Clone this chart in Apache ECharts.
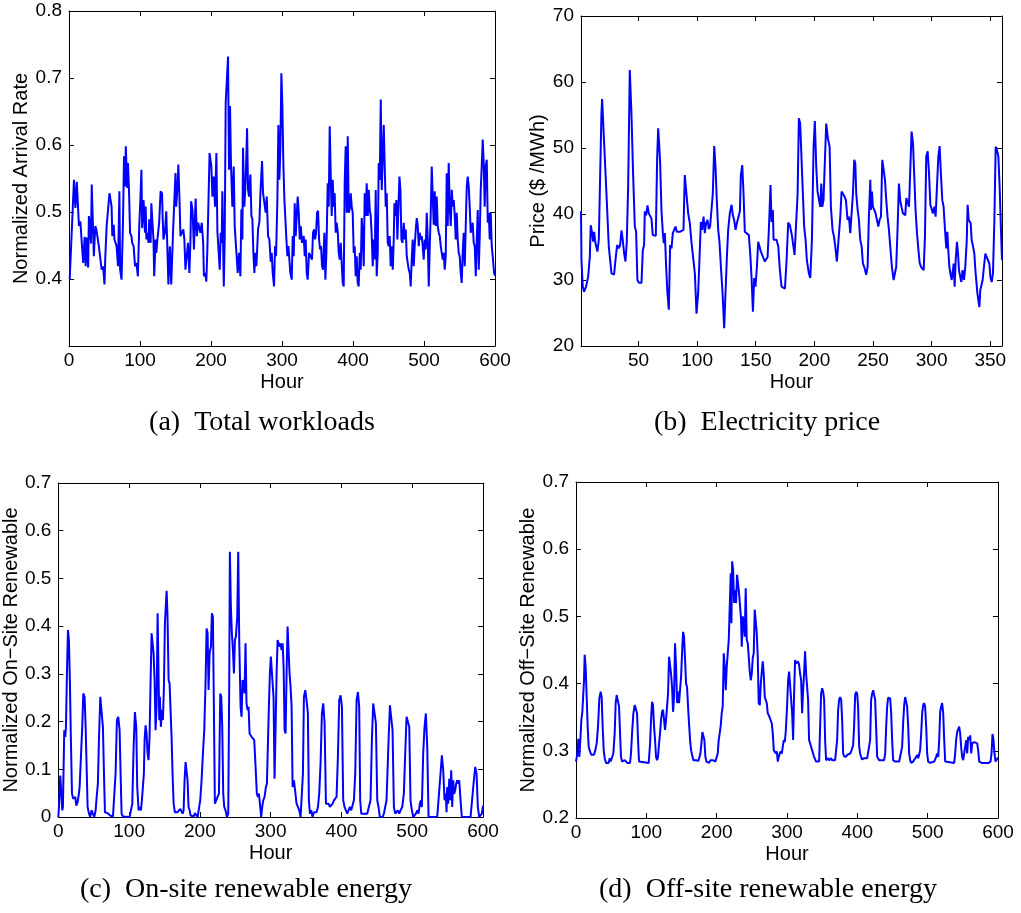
<!DOCTYPE html>
<html>
<head>
<meta charset="utf-8">
<script src="https://cdn.jsdelivr.net/npm/echarts@6/dist/echarts.min.js"></script>
<style>
  html, body { margin: 0; padding: 0; background: #fff; }
  #chart { width: 1021px; height: 913px; }
</style>
</head>
<body>
<div id="chart"></div>
<script>
// Hourly traces, [hour, value]

// (a) normalized arrival rate of total workloads
const workload = [
[1,0.400],[7,0.548],[9,0.506],[11,0.545],[13,0.543],[14,0.479],[16,0.486],[18,0.454],[20,0.424],[22,0.463],[23.5,0.419],[25,0.462],[27,0.417],[28,0.494],[29,0.459],[30,0.491],[31,0.453],[32,0.541],[34,0.543],[35,0.434],[37,0.479],[38.5,0.474],[41,0.476],[42,0.449],[44,0.447],[46,0.414],[48,0.419],[50,0.392],[51,0.429],[53,0.479],[55,0.481],[57,0.528],[60,0.508],[61,0.464],[63,0.481],[64,0.459],[67,0.449],[69,0.419],[71,0.531],[72,0.414],[74,0.399],[76,0.483],[77.5,0.583],[79,0.538],[80,0.598],[82,0.536],[83,0.573],[84.5,0.533],[86,0.469],[88,0.464],[89,0.454],[91,0.449],[93,0.419],[95,0.424],[97,0.404],[99,0.481],[100.5,0.518],[102,0.563],[103,0.476],[105,0.518],[107,0.469],[108,0.508],[109,0.459],[110,0.469],[112,0.454],[113,0.489],[115,0.454],[116,0.513],[117,0.494],[119,0.459],[120,0.404],[122,0.459],[123,0.439],[124.5,0.459],[126,0.474],[127,0.484],[129,0.531],[131,0.528],[132,0.489],[133,0.459],[135,0.469],[137,0.501],[138.5,0.503],[140,0.392],[142,0.449],[144,0.392],[146.5,0.469],[148,0.508],[150,0.558],[151,0.508],[153,0.541],[154,0.571],[155.5,0.523],[157,0.464],[159,0.469],[161,0.474],[162.5,0.459],[164,0.414],[166,0.414],[167.6,0.454],[169.5,0.409],[171,0.454],[172,0.516],[174,0.503],[176,0.444],[177,0.479],[178.4,0.520],[180,0.464],[182,0.484],[183,0.479],[185,0.469],[187,0.484],[189,0.454],[190,0.404],[192,0.409],[193.4,0.396],[195,0.449],
[198,0.588],[200.5,0.568],[202,0.523],[203.8,0.553],[205.7,0.508],[207.6,0.588],[209,0.471],[210.9,0.469],[212.3,0.414],[213.7,0.469],[215.1,0.454],[216,0.531],[218,0.389],[219.3,0.459],[220.7,0.663],[222.6,0.663],[224,0.732],[225.4,0.563],[226.8,0.658],[228.2,0.568],[230.1,0.508],[232,0.568],[233.4,0.479],[235.8,0.439],[237.6,0.409],[239.5,0.439],[241.4,0.404],[242.8,0.504],[244.2,0.459],[245.1,0.596],[247,0.508],[248.9,0.548],[250.8,0.625],[252.2,0.533],[253.6,0.523],[255.5,0.556],[256.9,0.494],[258.3,0.489],[259.7,0.439],[261.1,0.409],[262.5,0.439],[263.9,0.419],[266.3,0.474],[268.2,0.486],[269.6,0.528],[271.9,0.576],[273.3,0.528],[275.7,0.528],[277,0.499],[278.5,0.523],[280.4,0.464],[282.2,0.459],[284.1,0.426],[285.5,0.439],[286.9,0.409],[288.8,0.389],[290.2,0.449],[291.6,0.434],[293.5,0.518],[294.9,0.630],[296.3,0.548],[297.7,0.593],[299.1,0.707],[300.5,0.658],[302,0.568],[303.4,0.518],[304.8,0.489],[306.2,0.459],[307.6,0.434],[309,0.449],[310.4,0.429],[311.8,0.409],[313.7,0.399],[315.1,0.464],[316.5,0.434],[317.9,0.513],[319.3,0.464],[320.7,0.464],[322.1,0.523],[323.6,0.499],[325,0.459],[326.4,0.479],[328.2,0.454],[330.6,0.464],[332,0.434],[333.4,0.459],[334.8,0.409],[336.2,0.399],[338.1,0.439],[339.5,0.439],[340.9,0.439],[342.3,0.429],[343.7,0.469],[345.1,0.474],[346.6,0.459],[348,0.469],[349.4,0.499],[350.8,0.502],[352.2,0.459],[353.6,0.444],[355,0.449],[356.4,0.419],[357.8,0.414],[359.7,0.469],[361.1,0.399],[362.5,0.439],[364.4,0.543],[365.8,0.508],[367.2,0.628],[368.6,0.558],[370,0.494],[371.4,0.548],[372.8,0.508],[374.2,0.528],[375.6,0.469],[377,0.484],[378.5,0.471],[379.9,0.439],[381.3,0.429],[382.7,0.454],[384.1,0.456],[385.5,0.394],[386.9,0.389],[388.3,0.543],[389.7,0.598],[391.2,0.499],[392.6,0.613],[394,0.499],[395.4,0.504],[396.8,0.528],[398.2,0.508],[399.6,0.499],[401,0.439],[402.4,0.449],[403.8,0.404],[405.2,0.434],[406.6,0.394],
[408,0.389],[409.5,0.439],[410.9,0.414],[412.3,0.491],[413.7,0.464],[415.1,0.419],[416.5,0.528],[417.9,0.494],[419.3,0.543],[420.8,0.494],[422.2,0.533],[423.6,0.504],[425,0.494],[426.4,0.464],[427.8,0.419],[429.2,0.459],[430.6,0.429],[432,0.533],[433.4,0.404],[434.8,0.439],[436.2,0.573],[437.7,0.548],[439.1,0.668],[440.5,0.533],[441.9,0.583],[443.3,0.630],[444.7,0.568],[446.1,0.508],[447.5,0.528],[448.9,0.454],[450.3,0.449],[451.7,0.464],[453.1,0.419],[454.6,0.449],[456,0.414],[457.4,0.459],[458.3,0.513],[459.7,0.494],[461.1,0.518],[462.5,0.459],[463.9,0.459],[465.4,0.553],[466.8,0.533],[468.2,0.459],[469.6,0.454],[471.5,0.484],[472.9,0.459],[474.3,0.474],[475.7,0.434],[477.1,0.424],[478.5,0.414],[479.9,0.409],[481.3,0.389],[482.7,0.429],[484.1,0.459],[485.5,0.419],[486.9,0.449],[488.4,0.474],[489.8,0.491],[491.2,0.479],[492.6,0.449],[494,0.469],[495.4,0.459],[496.8,0.464],[498.2,0.449],[499.6,0.429],[501,0.459],[502.4,0.444],[503.9,0.499],[505.3,0.459],[506.7,0.389],[508.1,0.449],[509.5,0.499],[510.9,0.568],[512.3,0.523],[513.7,0.481],[515.1,0.531],[516.5,0.479],[517.9,0.523],[519.3,0.479],[520.8,0.469],[522.2,0.464],[523.6,0.449],[525,0.439],[526.4,0.429],[527.8,0.439],[529.2,0.414],[530.6,0.434],[532,0.558],[533.4,0.479],[534.8,0.573],[536.2,0.508],[537.7,0.479],[539.1,0.533],[540.5,0.508],[541.9,0.518],[543.3,0.494],[544.7,0.459],[546.1,0.499],[547.5,0.459],[548.9,0.439],[550.3,0.434],[551.7,0.409],[553.1,0.394],[554.5,0.439],[555.9,0.469],[557.4,0.419],[558.8,0.479],[560.2,0.538],[561.6,0.553],[563,0.538],[564.4,0.508],[565.8,0.469],[567.2,0.479],[568.6,0.484],[570,0.454],[571.5,0.449],[572.9,0.404],[574.3,0.459],[575.7,0.503],[577.1,0.414],[578.5,0.464],[579.9,0.533],[581.3,0.568],[582.7,0.608],[584.1,0.573],[585.5,0.508],[586.9,0.568],[588.4,0.578],[589.8,0.484],[591.2,0.499],[592.6,0.459],[594,0.499],[595.4,0.449],[596.8,0.434],[598.7,0.409],[600,0.405]
];

// (b) electricity price, $/MWh
const price = [
[1,40.4],[1.4,33.0],[2.5,29.0],[3.6,28.2],[5.3,29.0],[7.1,30.5],[8.5,33.5],[9.3,38.3],[10.5,37.1],[11.3,35.8],[12.2,37.3],[13.3,35.6],[14.2,35.6],[15.0,34.3],[16.2,36.1],[17.0,43.0],[18.4,55.0],[19.0,57.4],[20.7,57.4],[22.7,43.1],[24.7,35.1],[27.0,31.0],[29.2,30.8],[30.4,33.0],[31.8,35.3],[33.2,34.8],[34.4,35.3],[35.5,37.5],[36.6,36.1],[37.8,34.0],[38.9,32.8],[40.0,35.6],[41.2,44.1],[42.6,61.8],[44.0,55.3],[45.4,46.2],[46.9,38.1],[48.0,37.3],[49.1,30.0],[50.3,29.6],[52.6,29.6],[53.7,34.5],[54.8,35.3],[55.4,40.4],[56.5,39.8],[57.7,41.3],[58.8,40.1],[60.0,40.4],[61.1,39.3],[62.2,36.8],[63.4,36.7],[64.8,36.7],[65.9,48.2],[66.8,53.0],[67.6,50.7],[68.5,47.7],[69.6,40.6],[70.8,37.1],[71.6,35.6],[72.5,37.1],[73.6,32.0],[74.7,28.0],[75.9,25.5],[77.0,35.3],[78.2,34.8],[79.3,37.1],[80.4,37.1],[81.6,38.1],[82.7,37.3],[83.8,37.2],[85.3,37.3],[86.7,37.5],[88.4,37.6],[89.5,45.9],[91.0,45.7],[92.4,40.1],[93.8,38.6],[95.2,35.7],[96.6,35.7],[98.1,31.0],[99.5,24.9],[100.9,28.0],[102.0,33.0],[103.2,38.8],[104.3,37.6],[105.5,39.6],[106.6,37.1],[107.7,38.6],[108.9,39.1],[110.0,37.7],[111.1,38.1],[112.3,38.1],[113.4,43.1],[114.6,50.3],[115.7,47.2],[116.8,42.1],[118.0,37.6],[119.1,35.7],[120.3,32.0],[121.7,28.0],[123.1,22.7],[124.2,28.0],[125.4,33.5],[126.5,37.6],[127.9,40.1],[129.4,41.4],[130.5,39.8],[131.6,39.1],[132.8,37.6],[133.9,38.6],[135.0,38.3],[136.5,40.4],[137.3,45.9],[138.5,47.4],[139.6,43.1],[140.7,37.3],[142.4,37.1],[144.1,36.8],[145.3,34.0],[146.4,30.5],[147.6,25.2],[148.7,30.3],[149.8,29.0],[151.0,32.0],[152.1,35.8],[153.2,36.1],[154.4,34.3],[155.5,33.8],[156.7,33.5],[157.8,32.8],[158.9,33.0],[160.1,33.5],[161.2,37.6],[162.6,44.4],[163.5,38.8],[164.6,40.6],[165.2,36.1],[166.3,35.8],[167.7,36.1],[169.2,35.1],[170.6,31.5],[172.0,29.0],[173.4,28.7],[174.9,28.7],[176.3,33.0],[177.7,38.7],[179.1,38.3],[180.8,36.8],[182.2,36.6],[183.1,33.8],[184.5,34.1],[185.7,43.0],[186.8,54.5],[187.9,53.7],[189.1,53.5],[190.2,43.1],[191.3,38.1],[192.5,36.1],[193.6,33.0],[195.3,31.0],[196.5,30.3],[197.9,36.0],[199.3,50.0],[200.4,54.1],[201.6,47.2],[202.7,43.4],[203.9,43.1],[205.0,41.1],[205.9,44.6],[206.7,41.1],[207.8,42.1],[209.0,48.2],[210.1,53.7],[211.5,51.5],[213.0,50.2],[214.1,41.1],[215.5,37.6],[216.7,36.6],[217.8,35.1],[219.2,32.8],[220.6,33.0],[222.1,39.6],[223.2,43.4],[224.3,43.5],[225.8,42.6],[226.9,42.1],[228.3,39.1],[229.5,39.6],[230.6,37.1],[231.7,37.1],[232.9,43.1],[234.0,48.2],[234.9,47.7],[235.7,43.1],[236.9,40.6],[238.0,39.1],[239.1,36.1],[240.3,35.1],[241.4,32.5],[242.5,32.0],[244.2,30.8],[245.4,32.0],[246.5,39.6],[247.7,45.2],[248.2,40.6],[249.1,43.4],[249.9,41.1],[251.1,40.6],[252.2,40.1],[253.3,39.8],[254.5,38.1],[255.6,39.1],[256.8,39.6],[257.9,48.2],[259.0,48.3],[260.2,45.2],[261.3,42.1],[262.4,39.6],[263.6,37.6],[264.7,35.1],[266.1,32.0],[267.6,30.0],[268.7,29.7],[269.8,32.0],[271.0,38.1],[272.1,44.6],[273.3,41.9],[274.4,41.6],[275.5,40.1],[276.7,40.1],[277.5,39.8],[278.4,42.4],[279.5,42.1],[280.7,41.1],[281.8,41.1],[282.9,52.5],[284.1,50.7],[285.2,45.7],[286.3,40.6],[287.5,37.1],[288.6,34.8],[289.8,32.6],[290.9,32.0],[292.0,31.8],[293.2,31.5],[294.3,36.6],[295.4,48.7],[296.6,49.5],[297.7,46.4],[298.9,41.4],[300.0,41.6],[301.1,40.1],[302.3,41.1],[303.4,39.6],[304.5,39.3],[305.7,48.7],[306.8,50.3],[308.0,45.7],[309.1,42.1],[310.2,41.1],[311.4,37.6],[312.5,34.8],[313.4,37.3],[314.2,34.5],[315.1,32.0],[316.2,30.8],[317.1,30.0],[318.8,32.5],[319.6,29.0],[320.5,33.0],[321.6,35.8],[322.5,34.0],[323.3,31.5],[324.5,31.8],[325.3,29.7],[326.4,31.5],[327.6,30.0],[328.7,32.0],[329.9,35.8],[330.7,41.4],[331.6,39.1],[332.4,39.1],[333.3,38.6],[334.1,36.1],[335.3,35.1],[336.4,34.0],[337.3,31.5],[338.1,31.3],[339.0,28.0],[339.8,27.0],[340.7,25.9],[341.5,28.5],[342.4,28.5],[343.5,30.0],[344.6,32.0],[345.8,34.0],[346.9,33.5],[348.1,33.3],[349.2,32.5],[350.1,30.5],[351.2,29.7],[352.3,31.0],[353.5,39.1],[354.6,50.2],[355.7,49.7],[356.9,48.7],[358.0,44.1],[359.2,37.1],[360,33.0]
];

// (c) normalized on-site renewable energy
const onsite = [
[0,0.0],[0.9,0.021],[2.8,0.087],[4.7,0.084],[5.6,0.014],[6.5,0.021],[8.4,0.182],[9.8,0.168],[10.8,0.189],[12.2,0.301],[13.6,0.392],[15.0,0.371],[16.4,0.280],[17.8,0.161],[19.3,0.049],[21.1,0.038],[22.6,0.035],[24.0,0.042],[25.4,0.024],[27.3,0.031],[29.1,0.049],[30.1,0.063],[32.0,0.066],[33.8,0.189],[35.3,0.259],[37.1,0.252],[38.6,0.189],[40.0,0.105],[41.4,0.021],[43.3,0.007],[45.1,0],[47.0,0.014],[48.9,0.017],[50.8,0],[52.7,0.014],[54.6,0.049],[55.9,0.070],[57.4,0.161],[59.3,0.252],[61.2,0.252],[63.0,0.189],[64.5,0.091],[65.9,0.010],[67.7,0.010],[69.6,0.008],[71.5,0.007],[73.4,0.003],[75.3,0],[77.2,0.001],[79.0,0],[80.9,0.091],[82.8,0.203],[84.7,0.210],[86.6,0.182],[88.0,0.091],[89.4,0.007],[91.3,0.001],[93.2,0],[100.7,0],[102.6,0],[104.5,0.028],[106.4,0.147],[108.2,0.220],[110.1,0.189],[111.5,0.063],[113.4,0.014],[114.8,0.021],[116.7,0.014],[118.1,0.035],[119.5,0.063],[120.9,0.091],[121.9,0.161],[123.3,0.192],[124.7,0.175],[126.1,0.133],[127.5,0.119],[128.9,0.168],[130.4,0.287],[131.8,0.385],[133.2,0.385],[134.6,0.343],[136.0,0.287],[137.4,0.182],[138.8,0.231],[140.3,0.427],[141.7,0.430],[142.6,0.203],[143.5,0.252],[144.9,0.189],[146.4,0.224],[147.8,0.203],[149.2,0.273],[150.6,0.406],[153.0,0.474],[154.3,0.420],[155.8,0.287],[157.2,0.280],[158.6,0.224],[160.0,0.168],[161.4,0.091],[162.9,0.028],[164.7,0.010],[166.6,0.007],[168.5,0.010],[170.4,0.013],[172.3,0.017],[174.2,0.014],[175.6,0.007],[177.0,0.014],[178.4,0.077],[179.8,0.115],[181.2,0.115],[182.6,0.077],[184.0,0.021],[185.5,0.014],[186.9,0.003],[188.3,0.003],[189.7,0.007],[191.1,0.001],[193.0,0.008],[194.9,0.007],[196.8,0],[198.6,0],[200.5,0.035],[202.4,0.077],[204.3,0.133],[206.2,0.182],[208.0,0.280],[209.5,0.395],[210.9,0.385],[212.3,0.266],[213.7,0.343],[215.6,0.357],[217.0,0.427],[218.4,0.420],[219.8,0.231],[221.2,0.028],[223.1,0.035],[225.0,0.042],[226.9,0.049],[228.8,0.259],[230.2,0.252],[231.6,0.189],[233.0,0.049],[234.4,0.021],[236.3,0.014],[238.2,0],[240.1,0.007],[241.5,0.287],[242.4,0.556],[243.8,0.441],[245.2,0.385],[246.7,0.350],[248.1,0.301],[249.5,0.371],[250.9,0.378],[252.8,0.420],[254.2,0.556],[255.6,0.371],[257.5,0.231],[258.9,0.210],[260.3,0.287],[261.7,0.280],[263.1,0.259],[264.5,0.364],[265.9,0.238],[267.4,0.224],[268.8,0.231],[270.2,0.175],[271.6,0.175],[273.0,0.168],[274.9,0.168],[276.8,0.161],[278.7,0.105],[280.5,0.049],[282.0,0.042],[283.4,0.049],[285.3,0.021],[286.6,0],[288.1,0.021],[289.5,0.035],[291.4,0.042],[293.3,0.063],[294.7,0.070],[296.1,0.070],[297.5,0.231],[298.9,0.301],[300.3,0.336],[301.3,0.336],[302.7,0.339],[304.1,0.250],[305.5,0.080],[307.0,0.189],[308.4,0.301],[309.8,0.371],[311.2,0.364],[312.6,0.357],[314.0,0.364],[315.4,0.350],[316.9,0.364],[318.3,0.315],[319.7,0.182],[321.1,0.175],[322.5,0.301],[323.9,0.399],[325.3,0.402],[326.7,0.301],[328.1,0.273],[329.6,0.231],[331.0,0.063],[332.9,0.077],[334.7,0.077],[336.6,0.028],[338.5,0.021],[340.4,0.014],[342.3,0],[344.2,0],[345.6,0.091],[347.0,0.252],[348.9,0.266],[350.7,0.245],[352.6,0.217],[354.0,0.035],[355.5,0.007],[357.3,0.014],[359.2,0],[361.1,0.010],[363.0,0.010],[364.9,0.010],[366.8,0.021],[368.6,0.049],[370.5,0.112],[372.4,0.217],[374.3,0.238],[376.2,0.196],[378.1,0.028],[379.9,0.028],[381.8,0.028],[383.7,0.021],[385.6,0.024],[387.5,0.028],[389.4,0.035],[391.2,0.038],[393.1,0.042],[395.0,0.126],[396.9,0.245],[398.8,0.255],[400.7,0.231],[402.5,0.035],[404.4,0.021],[406.3,0.014],[408.2,0.007],[410.1,0.010],[412.0,0.021],[413.8,0.014],[415.7,0.015],[417.6,0.035],[419.5,0.091],[421.4,0.245],[423.3,0.262],[425.1,0.231],[426.5,0.035],[428.0,0.007],[429.8,0.010],[431.7,0.007],[434.1,0.010],[436.4,0.007],[438.8,0.010],[441.1,0.035],[443.0,0.161],[444.9,0.238],[446.8,0.238],[448.7,0.196],[450.6,0.035],[452.4,0.021],[454.3,0],[456.2,0],[458.1,0],[460.0,0.007],[461.9,0.007],[463.7,0.035],[466.6,0.161],[468.5,0.234],[470.3,0.231],[472.2,0.182],[474.1,0.021],[476.0,0.007],[477.9,0.010],[479.7,0.014],[481.6,0.007],[483.5,0.014],[485.9,0.021],[488.2,0.049],[490.1,0.133],[492.0,0.210],[493.9,0.213],[495.8,0.189],[497.6,0.035],[499.5,0.014],[501.4,0],[503.3,0],[505.2,0.007],[507.1,0.014],[508.9,0.007],[510.8,0.028],[512.2,0.035],[513.6,0.021],[515.5,0.133],[517.4,0.189],[519.3,0.217],[521.2,0.147],[523.1,0],[525.9,0],[530.6,0],[535.3,0],[537.7,0],[540.0,0.091],[541.9,0.129],[543.8,0.098],[545.7,0.035],[547.5,0.049],[548.5,0.010],[549.4,0.063],[550.8,0.028],[552.3,0.080],[553.7,0.035],[555.1,0.098],[556.5,0.021],[557.9,0.077],[559.3,0.049],[560.7,0.056],[562.1,0.070],[563.6,0.077],[565.0,0.070],[566.4,0.077],[568.3,0.035],[570.1,0],[573.0,0],[577.7,0],[582.4,0],[585.2,0],[587.1,0.077],[589.0,0.105],[590.9,0.091],[592.7,0.021],[594.6,0],[596.5,0],[598.4,0.007],[599.8,0.021],[600,0.024]
];

// (d) normalized off-site renewable energy
const offsite = [
[0,0.284],[1.9,0.296],[3.3,0.318],[4.7,0.291],[6.2,0.316],[7.6,0.346],[9.0,0.358],[10.4,0.356],[11.4,0.405],[12.3,0.443],[13.7,0.425],[15.2,0.380],[16.6,0.336],[18.0,0.306],[19.9,0.299],[21.8,0.294],[23.7,0.296],[25.6,0.294],[27.5,0.301],[29.4,0.311],[31.3,0.336],[33.2,0.378],[35.1,0.388],[36.5,0.380],[37.9,0.336],[39.4,0.301],[40.8,0.289],[42.7,0.282],[44.6,0.284],[46.5,0.282],[47.9,0.289],[49.3,0.284],[51.2,0.286],[53.1,0.296],[55.0,0.326],[56.4,0.371],[57.8,0.383],[59.7,0.385],[61.2,0.366],[62.6,0.326],[64.0,0.291],[65.4,0.284],[67.3,0.286],[69.2,0.286],[71.1,0.284],[73.0,0.282],[74.9,0.284],[76.8,0.282],[78.2,0.296],[79.7,0.326],[81.6,0.356],[83.5,0.368],[85.4,0.368],[86.8,0.356],[88.2,0.316],[89.6,0.284],[92.0,0.282],[103.4,0.282],[105.3,0.311],[106.7,0.346],[108.1,0.373],[109.5,0.368],[111.0,0.336],[112.4,0.316],[113.8,0.291],[115.2,0.286],[116.6,0.291],[118.1,0.311],[119.5,0.326],[120.9,0.346],[122.3,0.358],[123.8,0.361],[125.2,0.346],[126.6,0.331],[128.0,0.346],[129.5,0.348],[130.9,0.385],[132.3,0.440],[133.7,0.438],[135.1,0.415],[136.6,0.395],[138.0,0.358],[139.4,0.380],[140.8,0.460],[142.3,0.425],[143.7,0.371],[145.1,0.388],[146.5,0.371],[147.9,0.390],[149.4,0.410],[150.8,0.445],[152.2,0.477],[153.6,0.470],[155.1,0.435],[156.5,0.400],[157.9,0.395],[159.3,0.366],[160.7,0.341],[162.2,0.316],[163.6,0.301],[165.0,0.294],[166.9,0.286],[168.8,0.284],[170.7,0.286],[172.6,0.287],[174.0,0.285],[175.4,0.286],[176.9,0.296],[178.3,0.311],[179.7,0.328],[181.1,0.328],[182.5,0.316],[184.0,0.291],[185.4,0.284],[187.3,0.286],[189.2,0.282],[191.1,0.286],[193.0,0.285],[194.9,0.286],[196.3,0.284],[198.2,0.284],[200.1,0.282],[201.5,0.296],[202.9,0.316],[204.3,0.326],[205.8,0.338],[207.2,0.356],[208.6,0.366],[210.1,0.445],[211.5,0.425],[212.9,0.390],[214.3,0.425],[215.7,0.426],[217.2,0.465],[218.6,0.515],[220.0,0.564],[221.0,0.490],[222.0,0.582],[223.4,0.569],[224.8,0.520],[226.2,0.539],[227.6,0.520],[229.0,0.562],[230.4,0.549],[231.9,0.534],[233.3,0.515],[234.7,0.495],[235.7,0.455],[237.1,0.500],[238.5,0.490],[239.9,0.470],[241.3,0.542],[242.8,0.465],[244.2,0.460],[245.6,0.440],[247.0,0.418],[248.5,0.405],[249.9,0.415],[251.3,0.438],[252.7,0.445],[254.1,0.510],[255.6,0.512],[257.0,0.475],[258.4,0.440],[259.8,0.371],[261.3,0.368],[262.7,0.400],[264.1,0.400],[265.5,0.433],[266.9,0.415],[268.4,0.380],[269.8,0.378],[271.2,0.371],[272.6,0.356],[274.1,0.353],[275.5,0.353],[276.9,0.351],[278.3,0.341],[279.8,0.326],[281.2,0.301],[282.6,0.300],[284.0,0.296],[285.5,0.299],[286.9,0.284],[288.3,0.291],[289.7,0.296],[291.1,0.299],[292.6,0.296],[294.0,0.306],[295.4,0.316],[296.8,0.313],[298.2,0.328],[300.1,0.366],[301.6,0.405],[303.0,0.418],[304.4,0.420],[305.8,0.420],[307.3,0.356],[308.7,0.316],[310.1,0.385],[311.5,0.435],[313.0,0.430],[314.4,0.428],[315.8,0.433],[317.2,0.428],[318.6,0.415],[320.1,0.405],[321.5,0.356],[322.9,0.390],[324.3,0.415],[325.7,0.448],[327.2,0.415],[328.6,0.395],[330.0,0.376],[331.4,0.316],[332.9,0.311],[334.3,0.313],[335.7,0.311],[337.1,0.296],[338.5,0.291],[339.9,0.289],[341.4,0.284],[342.8,0.282],[345.7,0.284],[347.1,0.336],[348.5,0.385],[349.9,0.393],[351.4,0.388],[352.8,0.376],[354.2,0.316],[355.6,0.286],[357.0,0.284],[358.5,0.289],[359.9,0.286],[361.3,0.285],[362.7,0.289],[364.2,0.286],[365.6,0.284],[368.4,0.286],[369.9,0.286],[371.3,0.316],[372.7,0.361],[374.1,0.376],[375.5,0.380],[377.0,0.376],[378.4,0.346],[379.8,0.296],[381.2,0.292],[382.6,0.292],[384.1,0.291],[385.5,0.294],[386.9,0.296],[388.3,0.294],[389.8,0.296],[391.2,0.299],[392.6,0.301],[394.0,0.308],[395.4,0.336],[396.9,0.383],[398.3,0.388],[399.7,0.385],[401.1,0.366],[402.6,0.306],[404.0,0.296],[405.4,0.291],[406.8,0.287],[408.3,0.286],[409.7,0.289],[411.1,0.291],[414.0,0.289],[416.8,0.291],[418.2,0.316],[419.6,0.376],[421.1,0.385],[422.5,0.390],[423.9,0.390],[425.3,0.376],[426.7,0.336],[428.2,0.291],[431.0,0.286],[433.9,0.286],[435.3,0.287],[438.1,0.286],[439.6,0.296],[441.0,0.336],[442.4,0.366],[443.8,0.379],[445.2,0.380],[446.7,0.378],[448.1,0.356],[449.5,0.316],[450.9,0.286],[453.8,0.284],[456.6,0.284],[459.5,0.284],[460.9,0.282],[462.3,0.286],[463.7,0.306],[465.2,0.343],[466.6,0.368],[468.0,0.380],[469.4,0.378],[470.8,0.366],[472.3,0.336],[473.7,0.296],[475.1,0.286],[476.5,0.282],[479.4,0.284],[482.2,0.286],[483.7,0.291],[485.1,0.294],[486.5,0.289],[487.9,0.294],[489.3,0.301],[490.8,0.326],[492.2,0.356],[493.6,0.368],[495.0,0.371],[496.4,0.366],[497.9,0.336],[499.3,0.296],[500.7,0.284],[503.6,0.282],[506.4,0.284],[509.3,0.284],[512.1,0.291],[513.5,0.296],[515.0,0.291],[516.4,0.316],[517.8,0.358],[519.2,0.366],[520.6,0.371],[522.1,0.356],[523.5,0.316],[524.9,0.284],[526.3,0.282],[537.7,0.282],[539.1,0.296],[540.5,0.316],[541.9,0.328],[543.4,0.326],[544.8,0.336],[546.2,0.326],[547.6,0.306],[549.0,0.291],[550.5,0.286],[551.9,0.296],[553.3,0.294],[554.8,0.316],[556.2,0.296],[557.6,0.321],[559.0,0.316],[560.5,0.323],[561.9,0.296],[563.3,0.311],[564.7,0.313],[566.2,0.313],[569.0,0.313],[570.4,0.311],[571.8,0.301],[573.3,0.284],[577.0,0.282],[581.8,0.282],[586.5,0.282],[589.4,0.284],[590.8,0.296],[592.2,0.325],[593.6,0.316],[595.0,0.296],[596.5,0.284],[597.9,0.282],[600,0.290]
];

// Axis tick values
const hourTicks = [0, 100, 200, 300, 400, 500, 600];
const priceHourTicks = [50, 100, 150, 200, 250, 300, 350];
const xTitle = 'Hour';

const SANS = '"Liberation Sans", Arial, Helvetica, sans-serif';
const SERIF = '"Liberation Serif", "Times New Roman", serif';
const LINE = '#0000ff';
const TICK_FONT = 19;
const NAME_FONT = 20;

// Panel layout and axis settings
const panels = [
  { data: workload, grid: { left: 69, top: 11, width: 426, height: 335 },
    x: { min: 0, max: 600, ticks: hourTicks },
    y: { min: 0.3, max: 0.8, interval: 0.1, fmt: v => v < 0.35 ? '' : v.toFixed(1) },
    yName: 'Normalized Arrival Rate', yGap: 36,
    caption: '(a)  Total workloads', cap: [262, 423] },
  { data: price, grid: { left: 581, top: 16, width: 421, height: 330 },
    x: { min: 1, max: 360, ticks: priceHourTicks },
    y: { min: 20, max: 70, interval: 10, fmt: v => String(Math.round(v)) },
    yName: 'Price ($ /MWh)', yGap: 27,
    caption: '(b)  Electricity price', cap: [767, 423] },
  { data: onsite, grid: { left: 58, top: 483, width: 425, height: 334 },
    x: { min: 0, max: 600, ticks: hourTicks },
    y: { min: 0, max: 0.7, interval: 0.1, fmt: v => v === 0 ? '0' : v.toFixed(1) },
    yName: 'Normalized On\u2212Site Renewable', yGap: 35,
    caption: '(c)  On-site renewable energy', cap: [246, 890] },
  { data: offsite, grid: { left: 576, top: 482, width: 422, height: 336 },
    x: { min: 0, max: 600, ticks: hourTicks },
    y: { min: 0.2, max: 0.7, interval: 0.1, fmt: v => v.toFixed(1) },
    yName: 'Normalized Off\u2212Site Renewable', yGap: 37,
    caption: '(d)  Off-site renewable energy', cap: [768, 890] }
];

const grid = [], xAxis = [], yAxis = [], series = [], graphic = [];

panels.forEach((p, i) => {
  grid.push(Object.assign({ containLabel: false }, p.grid));
  const line = { show: true, onZero: false, lineStyle: { color: '#000', width: 1 } };
  const tick = { show: true, inside: true, length: 5, lineStyle: { color: '#000', width: 1 }, customValues: p.x.ticks };
  const common = { type: 'value', gridIndex: i, min: p.x.min, max: p.x.max, splitLine: { show: false }, axisLine: line };
  xAxis.push(Object.assign({}, common, {
    position: 'bottom',
    axisTick: tick,
    axisLabel: { show: true, customValues: p.x.ticks, color: '#000', fontFamily: SANS, fontSize: TICK_FONT, margin: 5 },
    name: xTitle, nameLocation: 'middle', nameGap: 26,
    nameTextStyle: { color: '#000', fontFamily: SANS, fontSize: NAME_FONT }
  }));
  xAxis.push(Object.assign({}, common, {
    position: 'top', axisTick: tick, axisLabel: { show: false }
  }));
  const ycommon = { type: 'value', gridIndex: i, min: p.y.min, max: p.y.max, interval: p.y.interval,
    splitLine: { show: false }, axisLine: line,
    axisTick: { show: true, inside: true, length: 5, lineStyle: { color: '#000', width: 1 } } };
  yAxis.push(Object.assign({}, ycommon, {
    position: 'left',
    axisLabel: { show: true, color: '#000', fontFamily: SANS, fontSize: TICK_FONT, margin: 7, formatter: p.y.fmt },
    name: p.yName, nameLocation: 'middle', nameRotate: 90, nameGap: p.yGap,
    nameTextStyle: { color: '#000', fontFamily: SANS, fontSize: NAME_FONT }
  }));
  yAxis.push(Object.assign({}, ycommon, { position: 'right', axisLabel: { show: false } }));
  series.push({
    type: 'line', xAxisIndex: 2 * i, yAxisIndex: 2 * i, data: p.data,
    showSymbol: false, symbol: 'none', smooth: false,
    lineStyle: { color: LINE, width: 2 }, clip: true, z: 3
  });
  graphic.push({
    type: 'text', x: p.cap[0], y: p.cap[1],
    style: { text: p.caption, fill: '#000', font: '28px ' + SERIF, textAlign: 'center', textVerticalAlign: 'middle' }
  });
});

const chart = echarts.init(document.getElementById('chart'), null, { renderer: 'canvas' });
chart.setOption({
  animation: false,
  backgroundColor: '#fff',
  grid, xAxis, yAxis, series, graphic
});
</script>
</body>
</html>
